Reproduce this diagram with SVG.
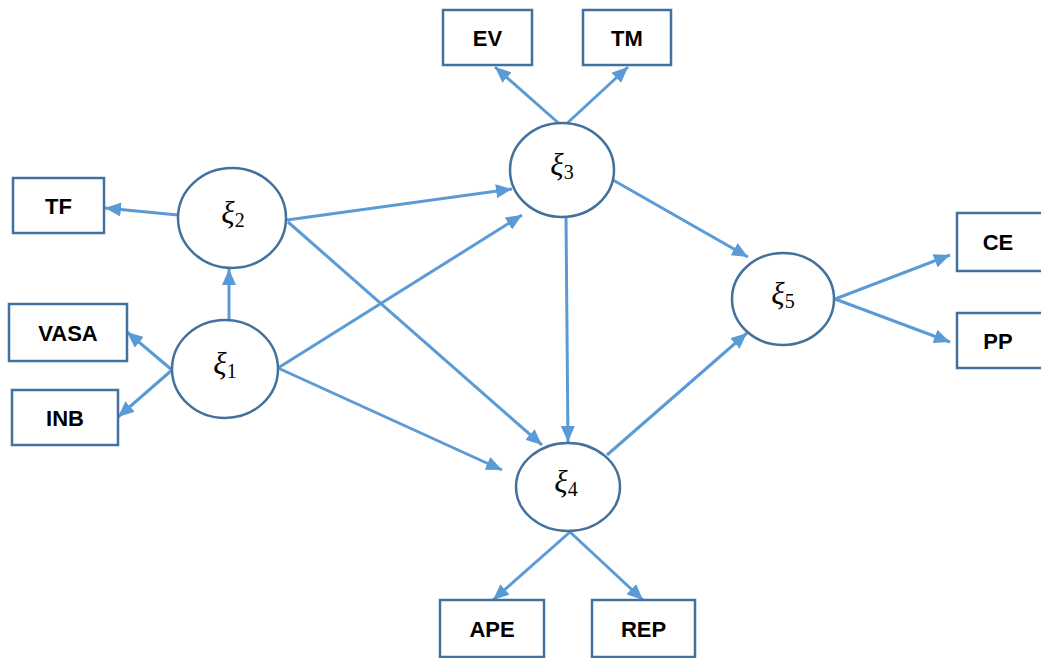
<svg xmlns="http://www.w3.org/2000/svg" width="1041" height="658" viewBox="0 0 1041 658">
<style>
.box{fill:#fff;stroke:#41719C;stroke-width:2.5}
.lat{fill:#fff;stroke:#41719C;stroke-width:2.5}
.lbl{font-family:"Liberation Sans",Arial,sans-serif;font-weight:bold;font-size:22px;fill:#000;text-anchor:middle}
.xi{font-family:"Liberation Serif","Times New Roman",serif;font-style:italic;font-size:31px;fill:#000;text-anchor:middle}
.sub{font-style:normal;font-size:20px}
.c{stroke:#5B9BD5;stroke-width:3;fill:none;marker-end:url(#ah)}
</style>
<defs>
<marker id="ah" markerUnits="userSpaceOnUse" markerWidth="18" markerHeight="14" refX="16" refY="7" orient="auto">
<path d="M0,0 L16,7 L0,14 z" fill="#5B9BD5"/>
</marker>
</defs>
<rect width="1041" height="658" fill="#fff"/>
<g id="connectors">
<line class="c" x1="178" y1="215" x2="105" y2="208"/>
<line class="c" x1="229" y1="320" x2="229" y2="269"/>
<line class="c" x1="172" y1="370" x2="127" y2="332"/>
<line class="c" x1="172" y1="370" x2="118" y2="417"/>
<line class="c" x1="563" y1="127" x2="495" y2="67"/>
<line class="c" x1="563" y1="127" x2="628" y2="67"/>
<line class="c" x1="287" y1="220" x2="512" y2="189"/>
<line class="c" x1="278" y1="368" x2="522" y2="215"/>
<line class="c" x1="288" y1="222" x2="542" y2="445"/>
<line class="c" x1="278" y1="368" x2="502" y2="470"/>
<line class="c" x1="566" y1="217" x2="568" y2="442"/>
<line class="c" x1="613" y1="180" x2="748" y2="257"/>
<line class="c" x1="607" y1="455" x2="747" y2="333"/>
<line class="c" x1="835" y1="299" x2="950" y2="255"/>
<line class="c" x1="835" y1="299" x2="950" y2="342"/>
<line class="c" x1="570" y1="532" x2="493" y2="600"/>
<line class="c" x1="570" y1="532" x2="643" y2="600"/>
</g>
<g id="TF"><rect class="box" x="13" y="178" width="91" height="55"/><text class="lbl" x="58.5" y="213.5">TF</text></g>
<g id="VASA"><rect class="box" x="9" y="304" width="118" height="57"/><text class="lbl" x="68" y="340.5">VASA</text></g>
<g id="INB"><rect class="box" x="12" y="390" width="106" height="55"/><text class="lbl" x="65" y="425.5">INB</text></g>
<g id="EV"><rect class="box" x="443" y="10" width="89" height="55"/><text class="lbl" x="487.5" y="45.5">EV</text></g>
<g id="TM"><rect class="box" x="583" y="10" width="88" height="55"/><text class="lbl" x="627" y="45.5">TM</text></g>
<g id="CE"><rect class="box" x="957" y="213" width="90" height="58"/><text class="lbl" x="998" y="249.5">CE</text></g>
<g id="PP"><rect class="box" x="957" y="313" width="90" height="55"/><text class="lbl" x="998" y="348.5">PP</text></g>
<g id="APE"><rect class="box" x="440" y="600" width="104" height="57"/><text class="lbl" x="492" y="637">APE</text></g>
<g id="REP"><rect class="box" x="592" y="600" width="103" height="57"/><text class="lbl" x="643.5" y="637">REP</text></g>
<g id="xi1"><ellipse class="lat" cx="225" cy="369" rx="53" ry="49"/><text class="xi" x="225" y="374">ξ<tspan class="sub" dy="4">1</tspan></text></g>
<g id="xi2"><ellipse class="lat" cx="232" cy="218" rx="54" ry="50"/><text class="xi" x="233" y="223">ξ<tspan class="sub" dy="4">2</tspan></text></g>
<g id="xi3"><ellipse class="lat" cx="562" cy="170" rx="52" ry="47"/><text class="xi" x="562" y="175">ξ<tspan class="sub" dy="4">3</tspan></text></g>
<g id="xi4"><ellipse class="lat" cx="568" cy="487" rx="52" ry="44"/><text class="xi" x="566" y="492">ξ<tspan class="sub" dy="4">4</tspan></text></g>
<g id="xi5"><ellipse class="lat" cx="783" cy="299" rx="51" ry="46"/><text class="xi" x="783" y="304">ξ<tspan class="sub" dy="4">5</tspan></text></g>
</svg>
